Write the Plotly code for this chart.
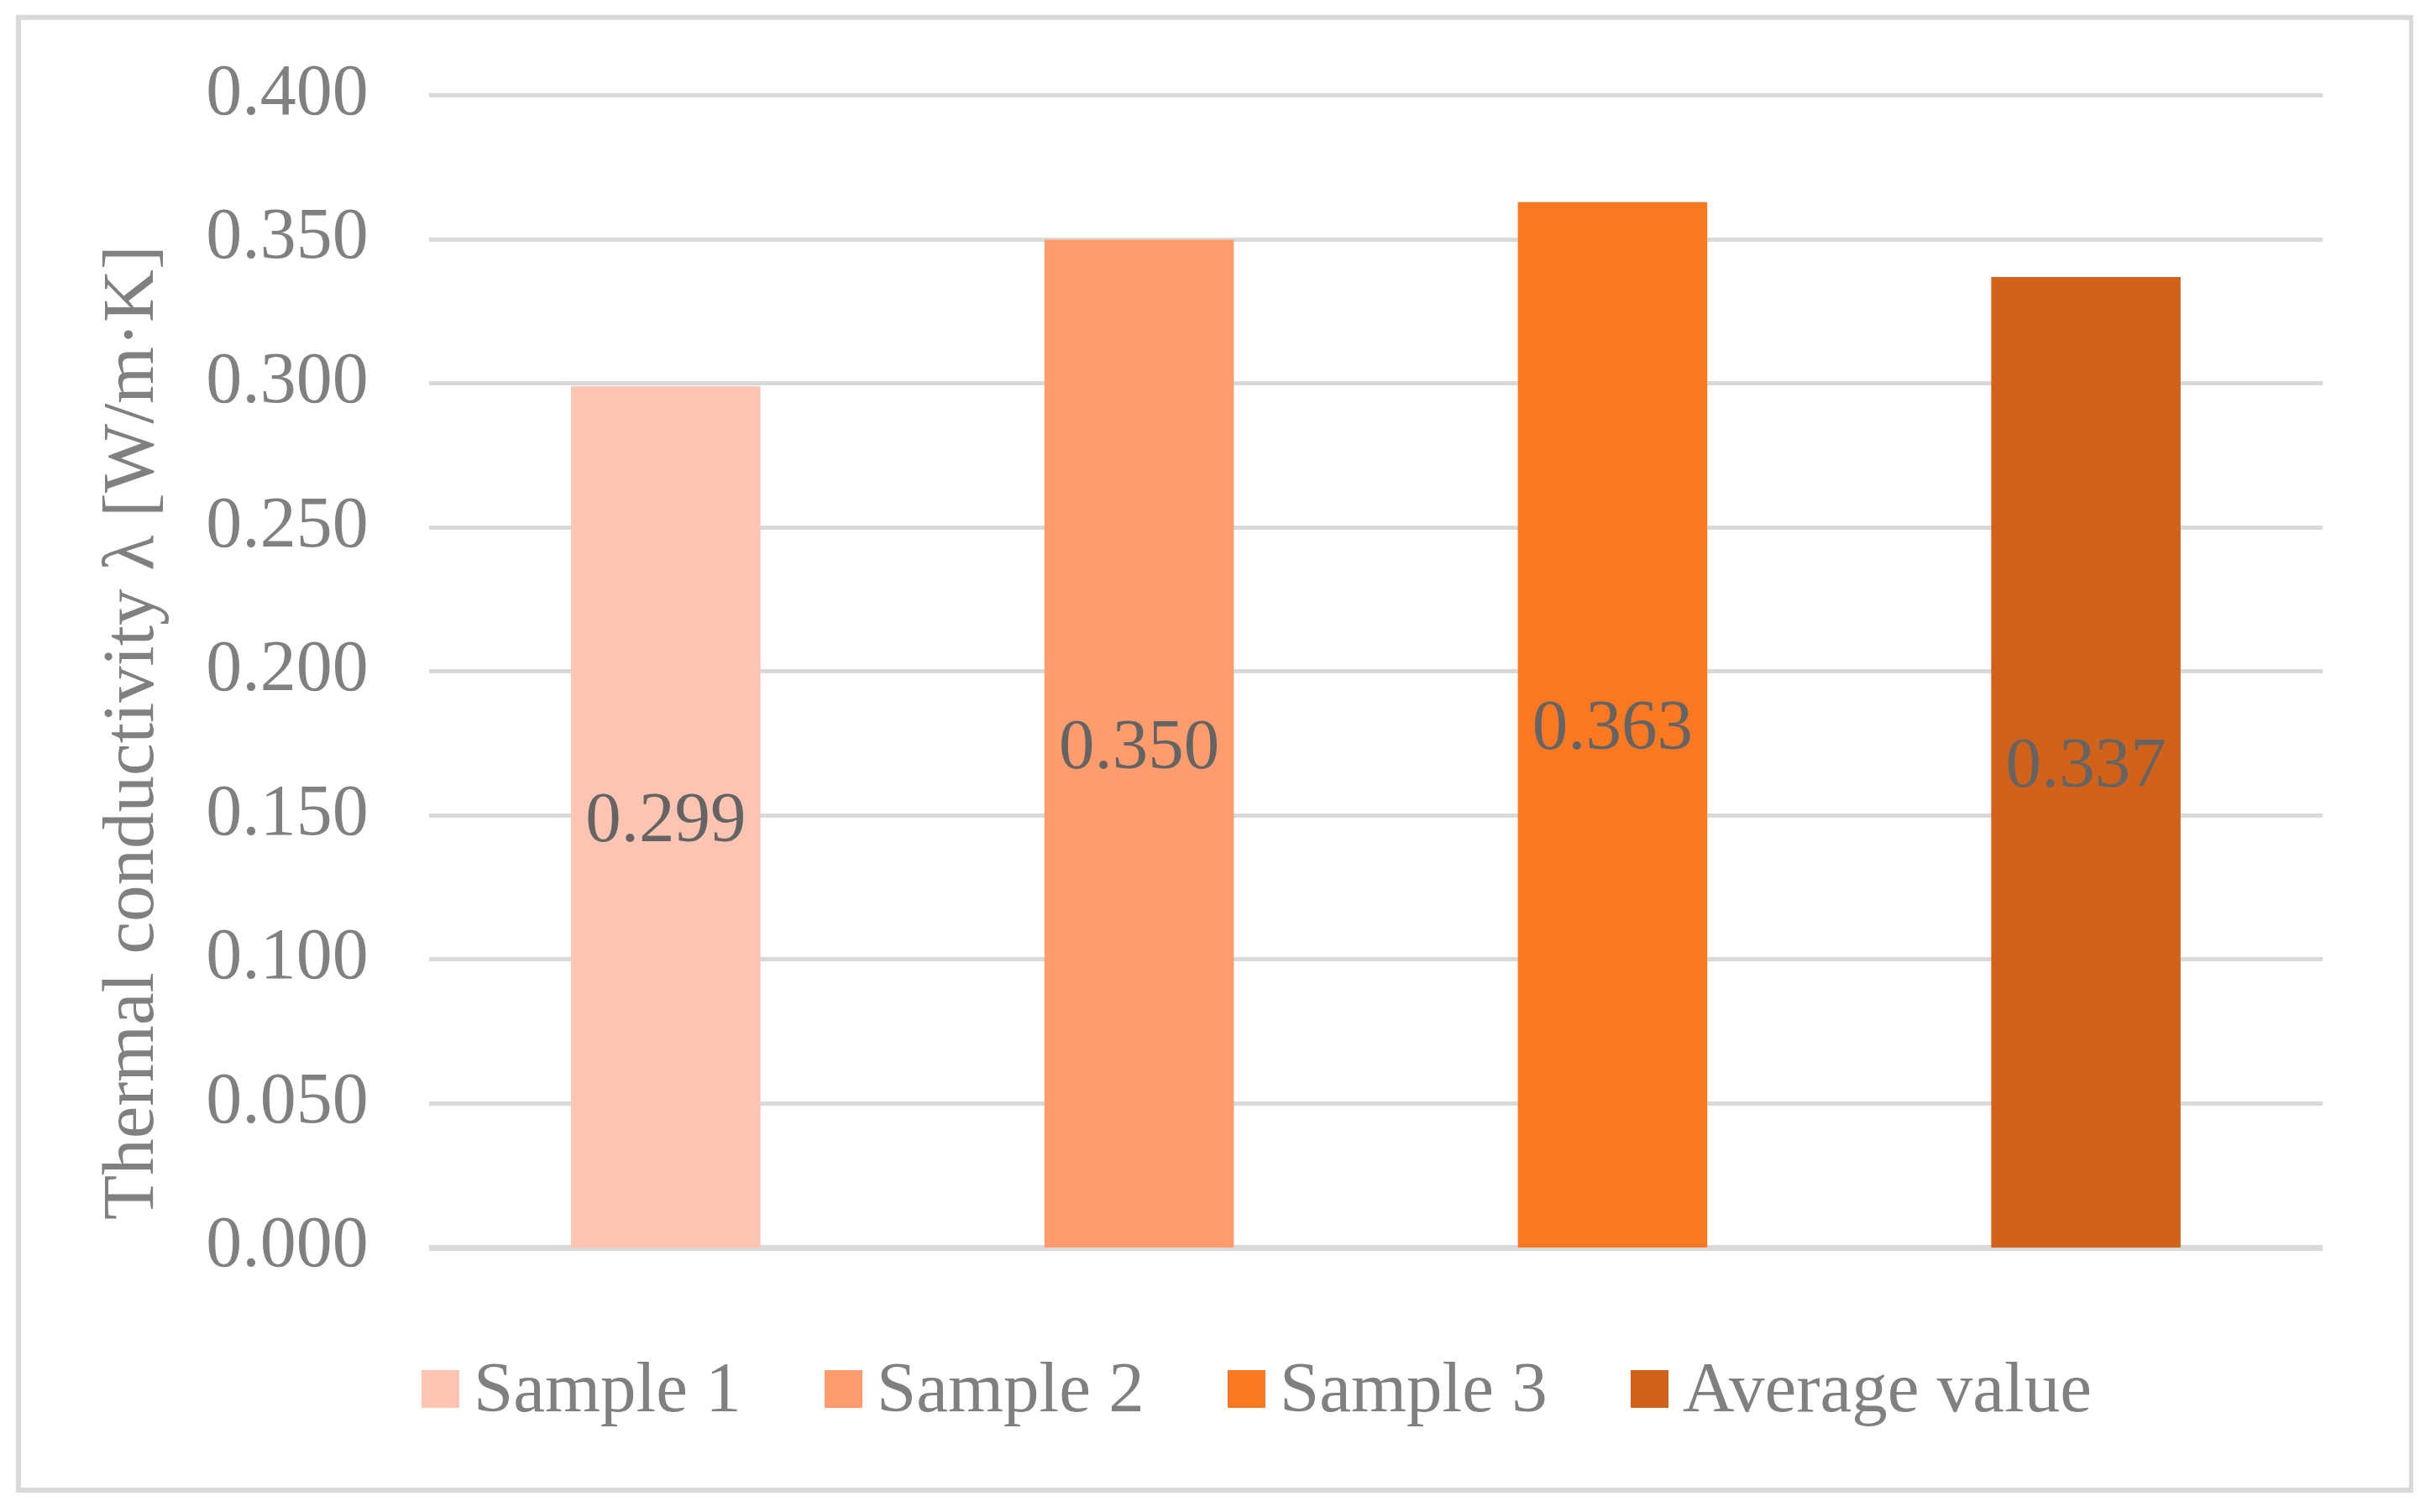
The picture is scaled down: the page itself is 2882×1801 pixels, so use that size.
import plotly.graph_objects as go

# Data
samples = ['Sample 1', 'Sample 2', 'Sample 3', 'Average value']
conductivity = [0.299, 0.350, 0.363, 0.337]
bar_colors = ['#FDC4B1', '#FF9C6E', '#F97821', '#D26119']
tick_vals = [0.0, 0.05, 0.1, 0.15, 0.2, 0.25, 0.3, 0.35, 0.4]
tick_text = ['0.000', '0.050', '0.100', '0.150', '0.200', '0.250', '0.300', '0.350', '0.400']

FONT = 'Liberation Serif'
GREY = '#808080'

# page body has an 8px margin, so the figure is drawn 8px in from the corner
OFF = 8
W, H = 2882 - 2 * OFF, 1801 - 2 * OFF
Y_TOP = 0.402  # a bit above 0.4 so the top gridline is drawn
y_zero, y_four = 1486 - OFF, 114 - OFF
plot_top = y_four - (Y_TOP - 0.4) / 0.4 * (y_zero - y_four)
L, R = 511 - OFF, W - (2766 - OFF)
T, B = plot_top, H - y_zero


def px_x(p):
    return (p - OFF - L) / (W - L - R)


def px_y(p):
    return (H - B - (p - OFF)) / (H - T - B)


fig = go.Figure()
for name, val, col in zip(samples, conductivity, bar_colors):
    fig.add_trace(go.Bar(
        x=[name], y=[val], name=name,
        marker=dict(color=col, line=dict(width=0)),
        text=[f'{val:.3f}'], textposition='inside', insidetextanchor='middle',
        constraintext='none',
        textfont=dict(family=FONT, size=85, color='#646464'),
        showlegend=False,
    ))

# Legend drawn as squares + text to keep Excel-sized keys
shapes = []
annotations = []
for i, (name, col) in enumerate(zip(samples, bar_colors)):
    x0 = 502 + 480 * i
    shapes.append(dict(type='rect', xref='paper', yref='paper',
                       x0=px_x(x0), x1=px_x(x0 + 45), y0=px_y(1677), y1=px_y(1632),
                       fillcolor=col, line=dict(width=0)))
    annotations.append(dict(text=name, xref='paper', yref='paper',
                            x=px_x(x0 + 60), y=px_y(1652), xanchor='left', yanchor='middle',
                            showarrow=False, font=dict(family=FONT, size=85, color=GREY)))

# chart border
shapes.append(dict(type='rect', xref='paper', yref='paper',
                   x0=px_x(22), x1=px_x(2872), y0=px_y(1775), y1=px_y(21),
                   line=dict(color='#D9D9D9', width=6), fillcolor='rgba(0,0,0,0)', layer='below'))

# axis title
annotations.append(dict(text='Thermal conductivity λ [W/m·K]', xref='paper', yref='paper',
                        x=px_x(153), y=px_y(873), xanchor='center', yanchor='middle',
                        textangle=-90, showarrow=False,
                        font=dict(family=FONT, size=87, color=GREY)))

fig.update_layout(
    width=W, height=H,
    margin=dict(l=L, r=R, t=T, b=B, pad=0),
    paper_bgcolor='white', plot_bgcolor='white',
    barmode='overlay', bargap=0.6,
    font=dict(family=FONT, color=GREY),
    shapes=shapes, annotations=annotations,
    xaxis=dict(showticklabels=False, showgrid=False, zeroline=False, showline=False),
    yaxis=dict(range=[0, Y_TOP], tickvals=tick_vals, ticktext=tick_text,
               showgrid=True, gridcolor='#D9D9D9', gridwidth=5,
               zeroline=True, zerolinecolor='#D9D9D9', zerolinewidth=7,
               ticks='outside', ticklen=54, tickcolor='rgba(0,0,0,0)',
               ticklabelshift=-8,
               tickfont=dict(family=FONT, size=86, color=GREY)),
)

fig.write_html('out.html')
